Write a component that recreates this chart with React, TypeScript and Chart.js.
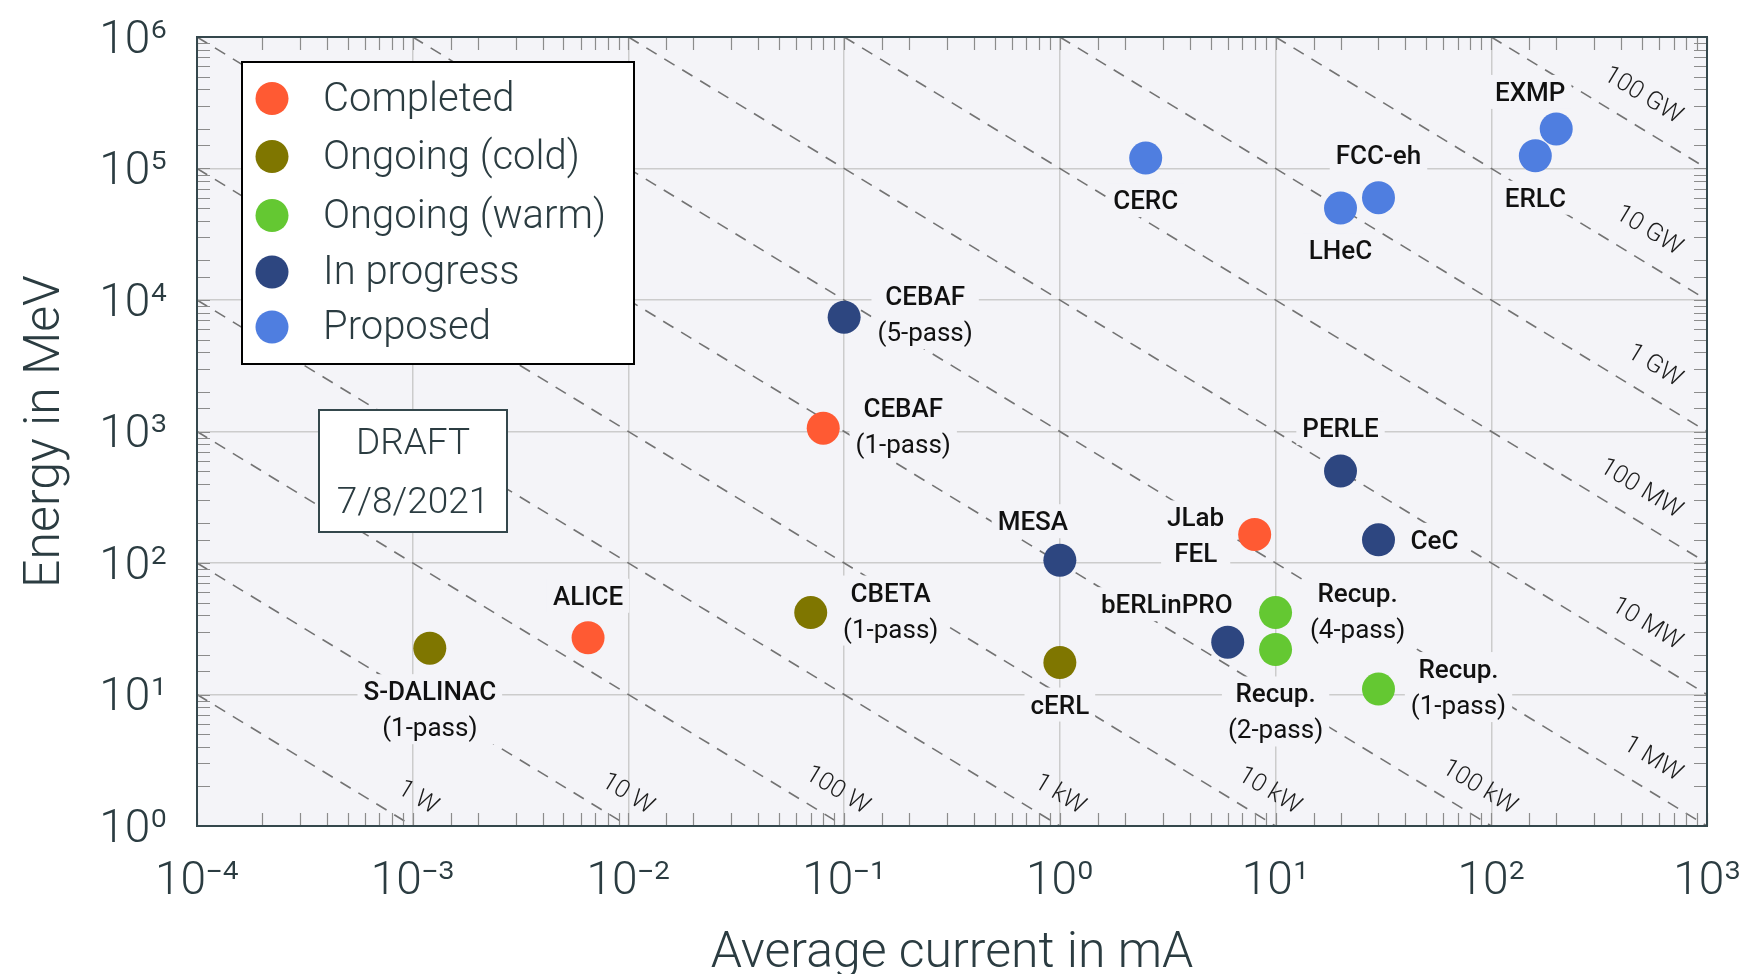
import React, { useEffect, useRef } from 'react';
import { Chart, registerables } from 'chart.js';

Chart.register(...registerables);

const W = 1744;
const H = 974;

// ---------- data ----------
const categories = ['Completed', 'Ongoing (cold)', 'Ongoing (warm)', 'In progress', 'Proposed'];
const categoryColors = ['#FF5A33', '#7F7600', '#64C832', '#2D4680', '#4F7EE0'];

// Completed
const completedNames = ['ALICE', 'CEBAF|(1-pass)', 'JLab|FEL'];
const completedCurrentMA = [0.0065, 0.08, 8];
const completedEnergyMeV = [27, 1060, 165];
// Ongoing (cold)
const coldNames = ['S-DALINAC|(1-pass)', 'CBETA|(1-pass)', 'cERL'];
const coldCurrentMA = [0.0012, 0.07, 1];
const coldEnergyMeV = [22.5, 42, 17.5];
// Ongoing (warm)
const warmNames = ['Recup.|(4-pass)', 'Recup.|(2-pass)', 'Recup.|(1-pass)'];
const warmCurrentMA = [10, 10, 30];
const warmEnergyMeV = [42, 22, 11];
// In progress
const progressNames = ['CEBAF|(5-pass)', 'MESA', 'bERLinPRO', 'PERLE', 'CeC'];
const progressCurrentMA = [0.1, 1, 6, 20, 30];
const progressEnergyMeV = [7400, 105, 25, 500, 150];
// Proposed
const proposedNames = ['CERC', 'LHeC', 'FCC-eh', 'ERLC', 'EXMP'];
const proposedCurrentMA = [2.5, 20, 30, 160, 200];
const proposedEnergyMeV = [120000, 50000, 60000, 125000, 200000];

// iso-power lines (beam power in kW = mA x MeV)
const powerKW = [1e-3, 1e-2, 1e-1, 1, 10, 100, 1e3, 1e4, 1e5, 1e6, 1e7, 1e8];
const powerLabels = ['1 W', '10 W', '100 W', '1 kW', '10 kW', '100 kW', '1 MW', '10 MW', '100 MW', '1 GW', '10 GW', '100 GW'];

// axis ticks
const xMin = 1e-4;
const xMax = 1e3;
const yMin = 1;
const yMax = 1e6;
const xTickLabels = ['10⁻⁴', '10⁻³', '10⁻²', '10⁻¹', '10⁰', '10¹', '10²', '10³'];
const yTickLabels = ['10⁰', '10¹', '10²', '10³', '10⁴', '10⁵', '10⁶'];

const xTitle = 'Average current in mA';
const yTitle = 'Energy in MeV';
const draftLines = ['DRAFT', '7/8/2021'];

// ---------- presentation (label offsets in px from the point) ----------
const completedLabelOffset = [[0, -42], [80, -20], [-59, -17]];
const coldLabelOffset = [[0, 43], [80, -20], [0, 42]];
const warmLabelOffset = [[82, -20], [0, 44], [80, -20]];
const progressLabelOffset = [[81, -21], [-27, -39], [-61, -38], [0, -43], [56, 0]];
const proposedLabelOffset = [[0, 42], [0, 42], [0, -43], [0, 42], [-26, -37]];

const groups = [
  { names: completedNames, x: completedCurrentMA, y: completedEnergyMeV, off: completedLabelOffset },
  { names: coldNames, x: coldCurrentMA, y: coldEnergyMeV, off: coldLabelOffset },
  { names: warmNames, x: warmCurrentMA, y: warmEnergyMeV, off: warmLabelOffset },
  { names: progressNames, x: progressCurrentMA, y: progressEnergyMeV, off: progressLabelOffset },
  { names: proposedNames, x: proposedCurrentMA, y: proposedEnergyMeV, off: proposedLabelOffset },
];

const TEXT = '#2B3C41';
const FRAME = '#34474C';
const PLOT_BG = '#F4F4F8';
const FONT = 'Roboto, "Noto Sans", sans-serif';

const isPow10 = (v: number) => Math.abs(Math.log10(v) - Math.round(Math.log10(v))) < 1e-9;

const plotPlugin = {
  id: 'plotDecor',
  beforeDraw(chart: any) {
    const { ctx, chartArea: a } = chart;
    ctx.save();
    ctx.fillStyle = '#ffffff';
    ctx.fillRect(0, 0, chart.width, chart.height);
    ctx.fillStyle = PLOT_BG;
    ctx.fillRect(a.left, a.top, a.right - a.left, a.bottom - a.top);
    ctx.restore();
  },
  afterDatasetsDraw(chart: any) {
    const { ctx } = chart;
    const xs = chart.scales.x;
    const ys = chart.scales.y;
    ctx.save();
    // iso-power labels
    ctx.fillStyle = '#1c1c1c';
    ctx.font = `300 25px ${FONT}`;
    ctx.textAlign = 'right';
    ctx.textBaseline = 'middle';
    powerKW.forEach((p, i) => {
      const x1 = Math.max(xMin, p / yMax);
      const x2 = Math.min(xMax, p / yMin);
      const ang = Math.atan2(ys.getPixelForValue(p / x2) - ys.getPixelForValue(p / x1), xs.getPixelForValue(x2) - xs.getPixelForValue(x1));
      let hx: number, hy: number, ox: number, oy: number;
      if (p / yMin < xMax * 0.999) {
        hx = xs.getPixelForValue(p / yMin); hy = ys.getPixelForValue(yMin); ox = 23; oy = -17;
      } else {
        hx = xs.getPixelForValue(xMax); hy = ys.getPixelForValue(p / xMax); ox = -27; oy = -50;
      }
      ctx.save();
      ctx.translate(hx + ox, hy + oy);
      ctx.rotate(ang);
      ctx.fillText(powerLabels[i], 0, 0);
      ctx.restore();
    });

    // facility labels
    const lineGap = 36;
    groups.forEach((g) => {
      g.names.forEach((name, i) => {
        const px = xs.getPixelForValue(g.x[i]) + g.off[i][0];
        const py = ys.getPixelForValue(g.y[i]) + g.off[i][1];
        const lines = name.split('|');
        const fonts = lines.map((l) => (l.startsWith('(') ? `400 26px ${FONT}` : `500 26px ${FONT}`));
        let wmax = 0;
        lines.forEach((l, k) => {
          ctx.font = fonts[k];
          wmax = Math.max(wmax, ctx.measureText(l).width);
        });
        ctx.fillStyle = PLOT_BG;
        ctx.fillRect(px - wmax / 2 - 6, py - 17, wmax + 12, (lines.length - 1) * lineGap + 34);
        ctx.fillStyle = '#111111';
        ctx.textAlign = 'center';
        ctx.textBaseline = 'alphabetic';
        lines.forEach((l, k) => {
          ctx.font = fonts[k];
          ctx.fillText(l, px, py + k * lineGap + 9);
        });
      });
    });
    ctx.restore();
  },
  afterDraw(chart: any) {
    const { ctx, chartArea: a } = chart;
    const xs = chart.scales.x;
    const ys = chart.scales.y;
    ctx.save();
    // inward tick marks on all four sides
    ctx.strokeStyle = '#8c8c8c';
    ctx.lineWidth = 1.2;
    const tl = 13;
    ctx.beginPath();
    xs.ticks.forEach((t: any) => {
      const x = Math.round(xs.getPixelForValue(t.value)) + 0.5;
      ctx.moveTo(x, a.bottom); ctx.lineTo(x, a.bottom - tl);
      ctx.moveTo(x, a.top); ctx.lineTo(x, a.top + tl);
    });
    ys.ticks.forEach((t: any) => {
      const y = Math.round(ys.getPixelForValue(t.value)) + 0.5;
      ctx.moveTo(a.left, y); ctx.lineTo(a.left + tl, y);
      ctx.moveTo(a.right, y); ctx.lineTo(a.right - tl, y);
    });
    ctx.stroke();
    // frame
    ctx.strokeStyle = FRAME;
    ctx.lineWidth = 2;
    ctx.strokeRect(a.left, a.top, a.right - a.left, a.bottom - a.top);

    // legend
    const lx = 242, ly = 62, lw = 392, lh = 302;
    ctx.fillStyle = '#ffffff';
    ctx.fillRect(lx, ly, lw, lh);
    ctx.strokeStyle = '#000000';
    ctx.lineWidth = 2;
    ctx.strokeRect(lx, ly, lw, lh);
    const itemY = [98.5, 156.5, 215.5, 272, 327];
    ctx.font = `300 40px ${FONT}`;
    ctx.textAlign = 'left';
    ctx.textBaseline = 'alphabetic';
    chart.data.datasets.slice(0, categories.length).forEach((d: any, i: number) => {
      ctx.fillStyle = d.backgroundColor;
      ctx.beginPath();
      ctx.arc(272, itemY[i], 16.5, 0, Math.PI * 2);
      ctx.fill();
      ctx.fillStyle = TEXT;
      ctx.fillText(d.label, 323, itemY[i] + 12);
    });

    // DRAFT box
    ctx.fillStyle = '#ffffff';
    ctx.fillRect(319, 410, 188, 122);
    ctx.strokeStyle = FRAME;
    ctx.lineWidth = 2;
    ctx.strokeRect(319, 410, 188, 122);
    ctx.fillStyle = TEXT;
    ctx.font = `300 37px ${FONT}`;
    ctx.textAlign = 'center';
    ctx.fillText(draftLines[0], 413, 454);
    ctx.fillText(draftLines[1], 413, 513);
    ctx.restore();
  },
};

export default function App() {
  const ref = useRef<HTMLCanvasElement | null>(null);
  useEffect(() => {
    if (!ref.current) return;
    const scatterSets = groups.map((g, gi) => ({
      type: 'scatter' as const,
      label: categories[gi],
      data: g.x.map((x, i) => ({ x, y: g.y[i] })),
      backgroundColor: categoryColors[gi],
      borderWidth: 0,
      pointRadius: 16.5,
      pointHoverRadius: 16.5,
      order: 1,
    }));
    const lineSets = powerKW.map((p, i) => {
      const x1 = Math.max(xMin, p / yMax);
      const x2 = Math.min(xMax, p / yMin);
      return {
        type: 'scatter' as const,
        label: powerLabels[i],
        data: [{ x: x1, y: p / x1 }, { x: x2, y: p / x2 }],
        showLine: true,
        borderColor: '#737373',
        borderWidth: 1.6,
        borderDash: [12, 9],
        pointRadius: 0,
        fill: false,
        order: 10,
      };
    });
    const chart = new Chart(ref.current, {
      type: 'scatter',
      data: { datasets: [...scatterSets, ...lineSets] as any },
      options: {
        responsive: false,
        devicePixelRatio: 1,
        animation: false,
        events: [],
        layout: { padding: { top: 37, right: 37, left: 0, bottom: 0 } },
        plugins: { legend: { display: false }, tooltip: { enabled: false } },
        scales: {
          x: {
            type: 'logarithmic',
            min: xMin,
            max: xMax,
            afterFit: (s: any) => { s.height = 148; s.paddingLeft = 0; s.paddingRight = 0; },
            border: { display: false },
            grid: {
              drawTicks: false,
              lineWidth: 1.5,
              color: (c: any) => (c.tick && isPow10(c.tick.value) ? '#CCCCCC' : 'rgba(0,0,0,0)'),
            },
            ticks: {
              autoSkip: false,
              maxRotation: 0,
              padding: 29,
              color: TEXT,
              font: { family: FONT, size: 46, weight: '300' as any },
              callback: (v: any) => (isPow10(Number(v)) ? xTickLabels[Math.round(Math.log10(Number(v))) + 4] : ''),
            },
            title: {
              display: true,
              text: xTitle,
              color: TEXT,
              font: { family: FONT, size: 50, weight: '300' as any, lineHeight: 1 },
              padding: { top: 0, bottom: -5 },
            },
          },
          y: {
            type: 'logarithmic',
            min: yMin,
            max: yMax,
            afterFit: (s: any) => { s.width = 197; s.paddingTop = 0; s.paddingBottom = 0; },
            border: { display: false },
            grid: {
              drawTicks: false,
              lineWidth: 1.5,
              color: (c: any) => (c.tick && isPow10(c.tick.value) ? '#CCCCCC' : 'rgba(0,0,0,0)'),
            },
            ticks: {
              autoSkip: false,
              padding: 30,
              labelOffset: 4,
              color: TEXT,
              font: { family: FONT, size: 46, weight: '300' as any },
              callback: (v: any) => (isPow10(Number(v)) ? yTickLabels[Math.round(Math.log10(Number(v)))] : ''),
            },
            title: {
              display: true,
              text: yTitle,
              color: TEXT,
              font: { family: FONT, size: 50, weight: '300' as any, lineHeight: 1 },
              padding: { top: 21, bottom: 0 },
            },
          },
        },
      },
      plugins: [plotPlugin],
    });
    return () => chart.destroy();
  }, []);
  return (
    <div style={{ position: 'absolute', left: 0, top: 0, width: W, height: H, overflow: 'hidden' }}>
      <canvas ref={ref} width={W} height={H} style={{ display: 'block', width: W, height: H }} />
    </div>
  );
}
